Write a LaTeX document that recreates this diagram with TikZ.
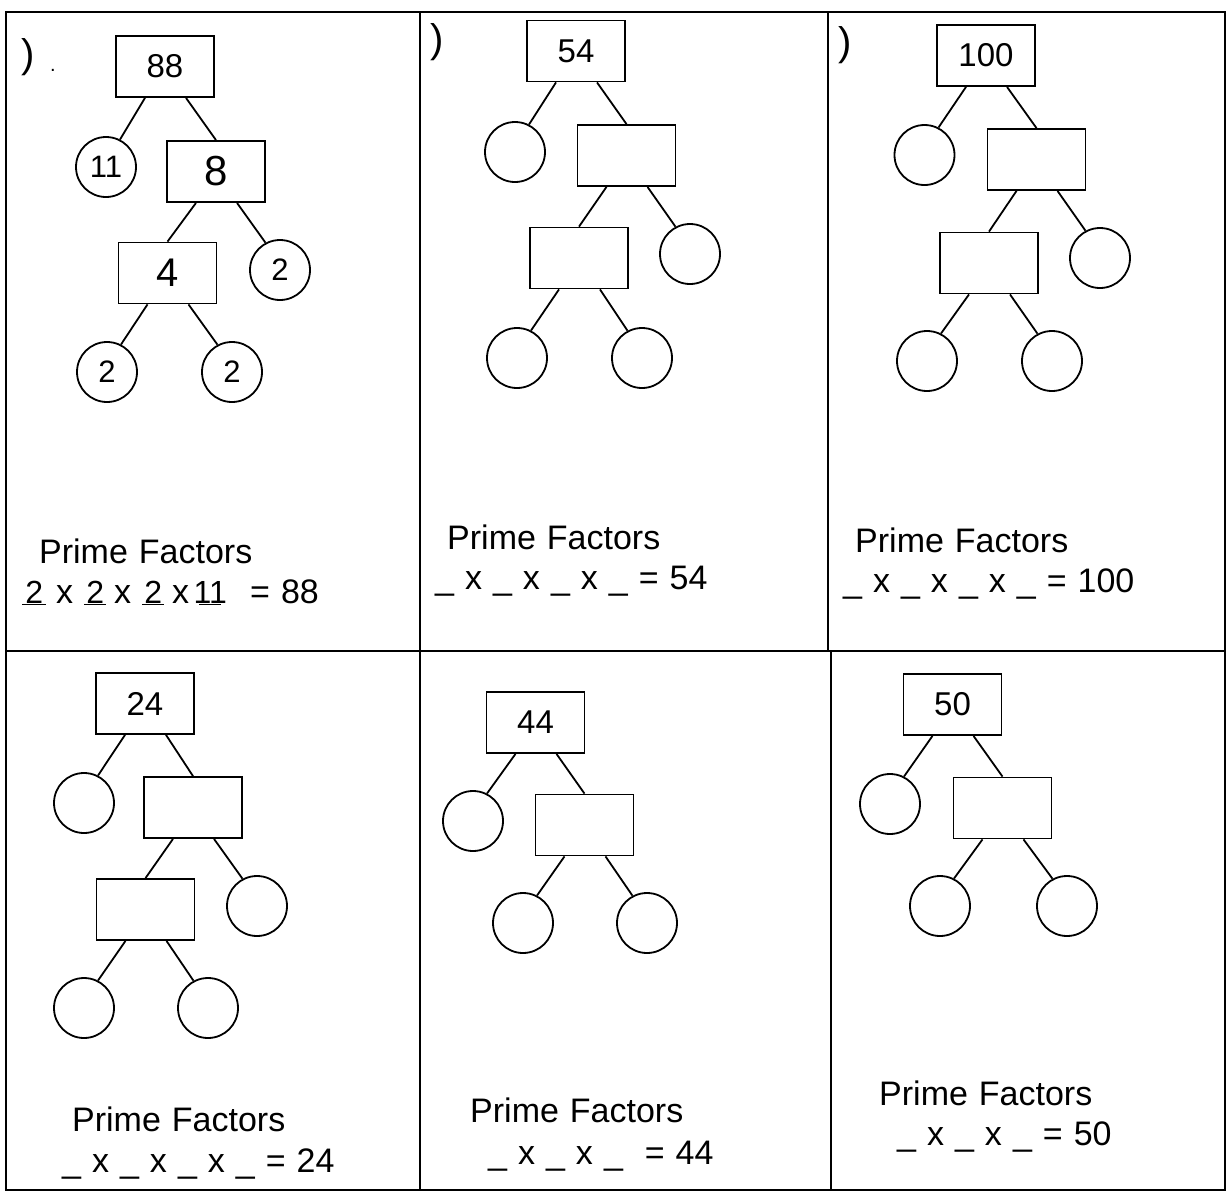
\documentclass[tikz,border=0pt]{standalone}
\usepackage{fontspec}
\setmainfont{Liberation Sans}
\usetikzlibrary{calc}
\newcommand{\widesp}{\spaceskip=11pt plus 2pt\relax}
\begin{document}
\begin{tikzpicture}[x=1pt,y=-1pt,
  frame/.style={line width=2pt},
  fbox/.style={draw, rectangle, minimum width=98pt, minimum height=61pt, inner sep=0pt, line width=1.8pt, font=\fontsize{33}{36}\selectfont},
  fcirc/.style={draw, circle, minimum size=60pt, inner sep=0pt, line width=1.8pt, font=\fontsize{31}{33}\selectfont},
  conn/.style={line width=1.8pt},
  lbl/.style={anchor=base west, inner sep=0pt, font=\fontsize{34}{36}\selectfont\widesp},
  hw/.style={anchor=base west, inner sep=0pt, font=\fontsize{32}{34}\selectfont},
  brk/.style={inner sep=0pt, font=\fontsize{40}{42}\selectfont}
]
\useasboundingbox (0,0) rectangle (1227,1192);
% frame
\draw[frame] (6,12) rectangle (1225,1190);
\draw[frame] (6,651) -- (1225,651);
\draw[frame] (420,12) -- (420,1190);
\draw[frame] (828,12) -- (828,651);
\draw[frame] (831,651) -- (831,1190);

% brackets
\node[brk] (b1) at (28,57) {)};
\node[inner sep=0pt, font=\fontsize{20}{20}\selectfont] (dot1) at (53,70) {.};
\node[brk] (b2) at (437.5,42.5) {)};
\node[brk] (b3) at (845,45.5) {)};

% ---------- Panel 1 : 88 ----------
\node[fbox] (p1r) at (165,66.5) {88};
\node[fcirc] (p1a) at (106,167) {11};
\node[fbox, font=\fontsize{42}{44}\selectfont] (p1b) at (216,171.5) {8};
\node[fbox, font=\fontsize{40}{42}\selectfont] (p1c) at (167.5,273) {4};
\node[fcirc] (p1d) at (280,270) {2};
\node[fcirc] (p1e) at (107,372) {2};
\node[fcirc] (p1f) at (232,372) {2};
\draw[conn] ($(p1r.south)+(-20,0)$) -- (p1a.63);
\draw[conn] ($(p1r.south)+(21,0)$) -- (p1b.north);
\draw[conn] ($(p1b.south)+(-20,0)$) -- (p1c.north);
\draw[conn] ($(p1b.south)+(21,0)$) -- (p1d.118);
\draw[conn] ($(p1c.south)+(-20,0)$) -- (p1e.63);
\draw[conn] ($(p1c.south)+(21,0)$) -- (p1f.118);
\node[lbl] (pf1) at (39,563) {Prime Factors};
\node[hw] (h1) at (22,603) {\underline{\makebox[24pt][c]{2}}};
\node[lbl] (x1a) at (56,603) {x};
\node[hw] (h2) at (84,603) {\underline{\makebox[22pt][c]{2}}};
\node[lbl] (x1b) at (114,603) {x};
\node[hw] (h3) at (142,603) {\underline{\makebox[22pt][c]{2}}};
\node[lbl] (x1c) at (172,603) {x};
\node[hw] (h4) at (199,603) {\underline{\makebox[22pt][c]{11}}};
\node[lbl] (e1) at (250,603) {= 88};

% ---------- Panel 2 : 54 ----------
\node[fbox] (p2r) at (576,51) {54};
\node[fcirc] (p2a) at (515,152) {};
\node[fbox] (p2b) at (626.5,155.5) {};
\node[fbox] (p2c) at (579,258) {};
\node[fcirc] (p2d) at (690,254) {};
\node[fcirc] (p2e) at (517,358) {};
\node[fcirc] (p2f) at (642,358) {};
\draw[conn] ($(p2r.south)+(-20,0)$) -- (p2a.63);
\draw[conn] ($(p2r.south)+(21,0)$) -- (p2b.north);
\draw[conn] ($(p2b.south)+(-20,0)$) -- (p2c.north);
\draw[conn] ($(p2b.south)+(21,0)$) -- (p2d.118);
\draw[conn] ($(p2c.south)+(-20,0)$) -- (p2e.63);
\draw[conn] ($(p2c.south)+(21,0)$) -- (p2f.118);
\node[lbl] (pf2) at (447,549) {Prime Factors};
\node[lbl] (eq2) at (435,589) {\_ x \_ x \_ x \_ = 54};

% ---------- Panel 3 : 100 ----------
\node[fbox] (p3r) at (986,55.5) {100};
\node[fcirc] (p3a) at (924.5,155) {};
\node[fbox] (p3b) at (1036.5,159.5) {};
\node[fbox] (p3c) at (989,263) {};
\node[fcirc] (p3d) at (1100,258) {};
\node[fcirc] (p3e) at (927,361) {};
\node[fcirc] (p3f) at (1052,361) {};
\draw[conn] ($(p3r.south)+(-20,0)$) -- (p3a.63);
\draw[conn] ($(p3r.south)+(21,0)$) -- (p3b.north);
\draw[conn] ($(p3b.south)+(-20,0)$) -- (p3c.north);
\draw[conn] ($(p3b.south)+(21,0)$) -- (p3d.118);
\draw[conn] ($(p3c.south)+(-20,0)$) -- (p3e.63);
\draw[conn] ($(p3c.south)+(21,0)$) -- (p3f.118);
\node[lbl] (pf3) at (855,552) {Prime Factors};
\node[lbl] (eq3) at (843,592) {\_ x \_ x \_ x \_ = 100};

% ---------- Panel 4 : 24 ----------
\node[fbox] (p4r) at (145,703.5) {24};
\node[fcirc] (p4a) at (84,803) {};
\node[fbox] (p4b) at (193,807.5) {};
\node[fbox] (p4c) at (145.5,909.5) {};
\node[fcirc] (p4d) at (257,906) {};
\node[fcirc] (p4e) at (84,1008) {};
\node[fcirc] (p4f) at (208,1008) {};
\draw[conn] ($(p4r.south)+(-20,0)$) -- (p4a.63);
\draw[conn] ($(p4r.south)+(21,0)$) -- (p4b.north);
\draw[conn] ($(p4b.south)+(-20,0)$) -- (p4c.north);
\draw[conn] ($(p4b.south)+(21,0)$) -- (p4d.118);
\draw[conn] ($(p4c.south)+(-20,0)$) -- (p4e.63);
\draw[conn] ($(p4c.south)+(21,0)$) -- (p4f.118);
\node[lbl] (pf4) at (72,1131) {Prime Factors};
\node[lbl] (eq4) at (62,1172) {\_ x \_ x \_ x \_ = 24};

% ---------- Panel 5 : 44 ----------
\node[fbox] (p5r) at (535.5,722.5) {44};
\node[fcirc] (p5a) at (473,821) {};
\node[fbox] (p5b) at (584.5,825) {};
\node[fcirc] (p5e) at (523,923) {};
\node[fcirc] (p5f) at (647,923) {};
\draw[conn] ($(p5r.south)+(-20,0)$) -- (p5a.63);
\draw[conn] ($(p5r.south)+(21,0)$) -- (p5b.north);
\draw[conn] ($(p5b.south)+(-20,0)$) -- (p5e.63);
\draw[conn] ($(p5b.south)+(21,0)$) -- (p5f.118);
\node[lbl] (pf5) at (470,1122) {Prime Factors};
\node[lbl] (eq5) at (488,1164) {\_ x \_ x \_\hspace{22pt}= 44};

% ---------- Panel 6 : 50 ----------
\node[fbox] (p6r) at (952.5,704.5) {50};
\node[fcirc] (p6a) at (890,804) {};
\node[fbox] (p6b) at (1002.5,808) {};
\node[fcirc] (p6e) at (940,906) {};
\node[fcirc] (p6f) at (1067,906) {};
\draw[conn] ($(p6r.south)+(-20,0)$) -- (p6a.63);
\draw[conn] ($(p6r.south)+(21,0)$) -- (p6b.north);
\draw[conn] ($(p6b.south)+(-20,0)$) -- (p6e.63);
\draw[conn] ($(p6b.south)+(21,0)$) -- (p6f.118);
\node[lbl] (pf6) at (879,1105) {Prime Factors};
\node[lbl] (eq6) at (897,1145) {\_ x \_ x \_ = 50};
\end{tikzpicture}
\end{document}
